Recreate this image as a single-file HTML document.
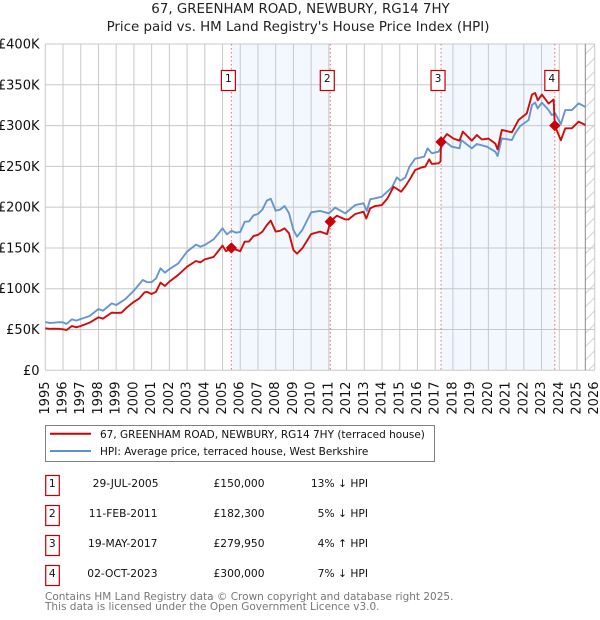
<!DOCTYPE html>
<html lang="en">
<head>
<meta charset="utf-8">
<title>67, Greenham Road price chart</title>
<style>
html,body{margin:0;padding:0;background:#fff;width:600px;height:620px;overflow:hidden}
svg{display:block;font-family:"DejaVu Sans","Liberation Sans",sans-serif}
</style>
</head>
<body>
<svg id="chart" width="600" height="620" viewBox="0 0 600 620" xmlns="http://www.w3.org/2000/svg">
  <defs>
    <pattern id="hatch" patternUnits="userSpaceOnUse" width="10" height="13.3" patternTransform="translate(585.5 44)">
      <line x1="0" y1="10" x2="10" y2="0" stroke="#d0d0d0" stroke-width="1"/>
    </pattern>
  </defs>
  <text x="300.5" y="13" text-anchor="middle" font-size="13.4" fill="#222">67, GREENHAM ROAD, NEWBURY, RG14 7HY</text>
  <text x="298" y="31" text-anchor="middle" font-size="13.4" fill="#222">Price paid vs. HM Land Registry's House Price Index (HPI)</text>
  <g id="plot"></g>

  <g>
    <rect x="45.5" y="425.5" width="389" height="36" fill="#fff" stroke="#808080" stroke-width="1"/>
    <line x1="50" x2="91" y1="433.7" y2="433.7" stroke="#cc0000" stroke-width="2"/>
    <text x="100" y="438" font-size="10.5" fill="#111">67, GREENHAM ROAD, NEWBURY, RG14 7HY (terraced house)</text>
    <line x1="50" x2="91" y1="451" y2="451" stroke="#5f8fd0" stroke-width="2"/>
    <text x="100" y="455" font-size="10.5" fill="#111">HPI: Average price, terraced house, West Berkshire</text>
  </g>

  <g font-size="10.7" fill="#111">
    <g>
      <rect x="45.7" y="475.5" width="13.6" height="20" fill="#fff" stroke="#c00000" stroke-width="1.2"/>
      <text x="52.3" y="487" text-anchor="middle">1</text>
      <text x="158.5" y="487" text-anchor="end">29-JUL-2005</text>
      <text x="264.5" y="487" text-anchor="end">£150,000</text>
      <text x="368" y="487" text-anchor="end">13% ↓ HPI</text>
    </g>
    <g>
      <rect x="45.7" y="505.5" width="13.6" height="20" fill="#fff" stroke="#c00000" stroke-width="1.2"/>
      <text x="52.3" y="517" text-anchor="middle">2</text>
      <text x="157.5" y="517" text-anchor="end">11-FEB-2011</text>
      <text x="264.5" y="517" text-anchor="end">£182,300</text>
      <text x="368" y="517" text-anchor="end">5% ↓ HPI</text>
    </g>
    <g>
      <rect x="45.7" y="535.5" width="13.6" height="20" fill="#fff" stroke="#c00000" stroke-width="1.2"/>
      <text x="52.3" y="547" text-anchor="middle">3</text>
      <text x="157.5" y="547" text-anchor="end">19-MAY-2017</text>
      <text x="264.5" y="547" text-anchor="end">£279,950</text>
      <text x="368" y="547" text-anchor="end">4% ↑ HPI</text>
    </g>
    <g>
      <rect x="45.7" y="565.5" width="13.6" height="20" fill="#fff" stroke="#c00000" stroke-width="1.2"/>
      <text x="52.3" y="577" text-anchor="middle">4</text>
      <text x="157.5" y="577" text-anchor="end">02-OCT-2023</text>
      <text x="264.5" y="577" text-anchor="end">£300,000</text>
      <text x="368" y="577" text-anchor="end">7% ↓ HPI</text>
    </g>
  </g>

  <text x="45" y="600" font-size="10.5" fill="#777">Contains HM Land Registry data © Crown copyright and database right 2025.</text>
  <text x="45" y="610" font-size="10.5" fill="#777">This data is licensed under the Open Government Licence v3.0.</text>
</svg>

<script>
const yearTicks = [1995,1996,1997,1998,1999,2000,2001,2002,2003,2004,2005,2006,2007,2008,2009,2010,2011,2012,2013,2014,2015,2016,2017,2018,2019,2020,2021,2022,2023,2024,2025,2026];
const valueTicks = [0,50000,100000,150000,200000,250000,300000,350000,400000];
const valueTickLabels = ['£0','£50K','£100K','£150K','£200K','£250K','£300K','£350K','£400K'];

const hpiDates = [1995,1995.25,1995.5,1995.75,1996,1996.2,1996.5,1996.75,1997,1997.5,1998,1998.25,1998.75,1999,1999.5,2000,2000.5,2000.75,2001,2001.25,2001.5,2001.75,2002,2002.5,2003,2003.5,2003.75,2004,2004.5,2005,2005.25,2005.5,2005.75,2006,2006.25,2006.5,2006.75,2007,2007.25,2007.5,2007.72,2008,2008.25,2008.5,2008.75,2009,2009.2,2009.5,2010,2010.51,2011,2011.36,2011.92,2012.49,2012.96,2013.14,2013.33,2013.61,2013.99,2014.56,2014.84,2015.03,2015.31,2015.55,2015.87,2016.38,2016.57,2016.81,2017.19,2017.56,2017.94,2018.37,2018.47,2019.07,2019.35,2019.92,2020.39,2020.52,2020.76,2021.33,2021.51,2021.8,2022.27,2022.46,2022.64,2022.78,2023.02,2023.4,2023.58,2023.77,2024.09,2024.34,2024.71,2025.09,2025.47];
const hpiValues = [59200,58000,58400,59000,58800,56800,62500,60900,62900,66600,75200,73000,82000,80000,87000,97700,110700,108000,108000,112800,125000,119700,124000,131000,145500,154000,151600,153600,160600,174000,166700,171000,168700,169600,182000,182600,190000,191600,197000,208000,210300,195600,197000,201400,192700,172000,163800,172000,193600,195300,192400,199400,192400,202600,204700,195300,209600,210800,212800,224300,236500,232500,236200,249600,259400,261900,272100,266000,268000,280300,274100,272100,282300,272100,277400,274100,268000,262700,284300,282300,290500,299500,306800,325200,328100,321100,328100,319000,312900,315000,301900,319000,319000,327200,323000];

const priceDates = [1995,1995.25,1995.5,1995.75,1996,1996.2,1996.5,1996.75,1997,1997.5,1998,1998.25,1998.75,1999,1999.3,1999.6,2000,2000.3,2000.6,2000.75,2001,2001.25,2001.5,2001.75,2002,2002.5,2003,2003.5,2003.75,2004,2004.5,2005,2005.2,2005.5,2006,2006.25,2006.5,2006.75,2007,2007.25,2007.5,2007.72,2008,2008.25,2008.5,2008.75,2009,2009.2,2009.5,2010,2010.5,2010.9,2011,2011.08,2011.45,2011.92,2012.11,2012.49,2012.96,2013.11,2013.33,2013.61,2013.99,2014.31,2014.65,2015.08,2015.36,2015.59,2015.87,2016.25,2016.44,2016.66,2016.81,2017.19,2017.3,2017.33,2017.66,2018.04,2018.37,2018.56,2019.07,2019.35,2019.63,2020.01,2020.39,2020.52,2020.76,2021.33,2021.7,2022.17,2022.46,2022.64,2022.79,2023.02,2023.4,2023.68,2023.75,2024.09,2024.34,2024.71,2025.09,2025.47];
const priceValues = [51500,50800,51000,50900,50300,49400,54300,52700,54300,58400,65000,63300,70700,70300,70700,77000,84000,88000,95600,96000,93600,96400,107500,103400,108700,116900,127000,134000,132400,136000,139000,152800,146000,150000,146000,157700,158000,164700,166000,170000,178000,183500,170000,171000,174000,168000,147500,143000,149500,167000,170000,167000,175000,182300,189500,185000,185000,191600,194400,186000,198500,201400,202600,210800,225000,219000,227000,235000,245500,248800,249600,258600,253000,253700,256000,279950,289600,284000,281500,292600,281500,288500,283000,284000,278000,270800,294600,291700,306800,315000,338000,340000,331000,338000,327000,332000,300000,282000,296600,296600,304800,300700];

const saleDates = [2005.5,2011.08,2017.33,2023.75];
const salePrices = [150000,182300,279950,300000];
const saleLabels = ['1','2','3','4'];
const dataEndDate = 2025.47;

const SVGNS = 'http://www.w3.org/2000/svg';
const plot = document.getElementById('plot');
const left = 45.3, right = 594.7, top_ = 44, bottom = 370.3;
const xMin = yearTicks[0], xMax = yearTicks[yearTicks.length - 1];
const yMax = valueTicks[valueTicks.length - 1];
function xScale(v) { return left + (v - xMin) / (xMax - xMin) * (right - left); }
function yScale(v) { return bottom - v / yMax * (bottom - top_); }
function make(tag, attrs) {
  const el = document.createElementNS(SVGNS, tag);
  for (const k in attrs) el.setAttribute(k, attrs[k]);
  plot.appendChild(el);
  return el;
}

// shaded spans between alternate sales
for (let i = 0; i + 1 < saleDates.length; i += 2) {
  const band = make('rect', {x: xScale(saleDates[i]), y: top_, width: xScale(saleDates[i + 1]) - xScale(saleDates[i]), height: bottom - top_, fill: '#f3f7fe'});
  
  
}

// hatched projection area
const hatch = make('rect', {x: xScale(dataEndDate), y: top_, width: right - xScale(dataEndDate), height: bottom - top_, fill: 'url(#hatch)'});



// grid + ticks
yearTicks.forEach(function (yr) {
  const g = make('line', {x1: xScale(yr), x2: xScale(yr), y1: top_, y2: bottom, stroke: '#c8c8c8', 'stroke-width': 1});
  
  
  const x = xScale(yr), y = 381.5;
  const t = make('text', {x: x, y: y, 'font-size': 13, fill: '#111', 'text-anchor': 'end', 'dominant-baseline': 'central', transform: 'rotate(-90 ' + x + ' ' + y + ')'});
  
  
  t.textContent = yr;
});
valueTicks.forEach(function (v, i) {
  const g = make('line', {x1: left, x2: right, y1: yScale(v), y2: yScale(v), stroke: '#c8c8c8', 'stroke-width': 1});
  
  
  const t = make('text', {x: 39.5, y: yScale(v) + 4.5, 'font-size': 13, fill: '#111', 'text-anchor': 'end'});
  
  
  t.textContent = valueTickLabels[i];
});

// data end marker
const endLine = make('line', {x1: xScale(dataEndDate), x2: xScale(dataEndDate), y1: top_, y2: bottom, stroke: '#8a8a8a', 'stroke-width': 1});



// sale vertical markers
saleDates.forEach(function (d) {
  const l = make('line', {x1: xScale(d), x2: xScale(d), y1: top_, y2: bottom, stroke: '#f06a78', 'stroke-width': 1, 'stroke-dasharray': '1.5 2.5'});
  
  
});

function seriesPoints(dates, values) {
  return dates.map(function (d, i) { return xScale(d).toFixed(2) + ',' + yScale(values[i]).toFixed(2); }).join(' ');
}
const hpiLine = make('polyline', {points: seriesPoints(hpiDates, hpiValues), fill: 'none', stroke: '#5f8fd0', 'stroke-width': 1.9, 'stroke-linejoin': 'round', opacity: 0.95});


const priceLine = make('polyline', {points: seriesPoints(priceDates, priceValues), fill: 'none', stroke: '#cc0000', 'stroke-width': 1.9, 'stroke-linejoin': 'round', opacity: 0.95});



// sale points and numbered badges
saleDates.forEach(function (d, i) {
  const cx = xScale(d), cy = yScale(salePrices[i]), r = 5;
  const m = make('polygon', {points: [cx - r, cy, cx, cy - r, cx + r, cy, cx, cy + r].join(' '), fill: '#cc0000', stroke: '#cc0000', 'stroke-width': 1, 'stroke-linejoin': 'round'});
  
  
  const b = make('rect', {x: cx - 10, y: 70.5, width: 14, height: 20, fill: '#fff', stroke: '#c00000', 'stroke-width': 1.2});
  
  
  const t = make('text', {x: cx - 3, y: 82, 'font-size': 10.7, fill: '#111', 'text-anchor': 'middle'});
  
  
  t.textContent = saleLabels[i];
});
</script>
</body>
</html>
